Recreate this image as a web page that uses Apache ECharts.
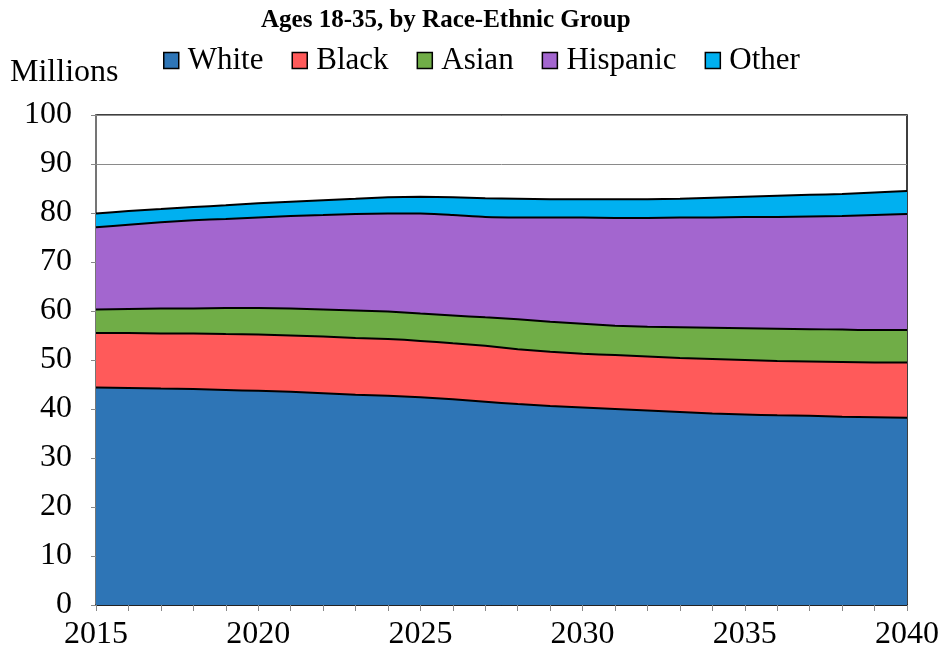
<!DOCTYPE html>
<html>
<head>
<meta charset="utf-8">
<script src="https://cdn.jsdelivr.net/npm/echarts@6/dist/echarts.min.js"></script>
<style>
  html, body { margin: 0; padding: 0; background: #fff; }
  #chart { width: 942px; height: 661px; }
</style>
</head>
<body>
<div id="chart"></div>
<script>
// Young adult population (ages 18-35), millions, by race-ethnic group
const years = ['2015','2016','2017','2018','2019','2020','2021','2022','2023','2024','2025','2026','2027',
               '2028','2029','2030','2031','2032','2033','2034','2035','2036','2037','2038','2039','2040'];
const white    = [44.4,44.3,44.2,44.1,43.9,43.7,43.5,43.2,42.9,42.7,42.4,42.0,41.5,41.0,40.6,40.3,40.0,39.7,39.4,39.1,38.9,38.7,38.6,38.4,38.3,38.2];
const black    = [11.1,11.2,11.2,11.3,11.4,11.5,11.5,11.6,11.6,11.6,11.5,11.4,11.4,11.2,11.1,11.0,11.0,11.0,11.0,11.1,11.1,11.1,11.1,11.2,11.2,11.3];
const asian    = [4.8,4.9,5.1,5.1,5.3,5.4,5.5,5.5,5.6,5.6,5.6,5.7,5.8,6.1,6.1,6.1,6.0,6.1,6.3,6.4,6.5,6.6,6.6,6.6,6.6,6.6];
const hispanic = [16.8,17.2,17.6,18.0,18.2,18.5,18.9,19.3,19.7,20.0,20.4,20.5,20.5,20.8,21.3,21.7,22.0,22.2,22.4,22.5,22.7,22.8,23.0,23.2,23.5,23.7];
const other    = [2.8,2.8,2.7,2.7,2.8,2.9,2.9,3.0,3.1,3.3,3.4,3.6,3.8,3.8,3.7,3.7,3.8,3.8,3.8,4.0,4.1,4.3,4.4,4.5,4.6,4.7];

const groups = [
  { name: 'White',    data: white,    color: '#2E75B6' },
  { name: 'Black',    data: black,    color: '#FF5A5A' },
  { name: 'Asian',    data: asian,    color: '#70AD47' },
  { name: 'Hispanic', data: hispanic, color: '#A366CF' },
  { name: 'Other',    data: other,    color: '#00B0F0' }
];

const FONT = '"Liberation Serif", "Times New Roman", serif';
const chart = echarts.init(document.getElementById('chart'));

chart.setOption({
  animation: false,
  backgroundColor: '#fff',
  title: {
    text: 'Ages 18-35, by Race-Ethnic Group',
    left: 256, top: 3,
    textStyle: { fontFamily: FONT, fontSize: 25, fontWeight: 'bold', color: '#000' }
  },
  legend: {
    left: 158, top: 40,
    icon: 'rect',
    itemWidth: 15, itemHeight: 16, itemGap: 28,
    textStyle: { fontFamily: FONT, fontSize: 31, color: '#000', padding: [0, 0, 0, 4] },
    itemStyle: { borderColor: '#000', borderWidth: 1.5 },
    data: groups.map(g => g.name)
  },
  graphic: [{
    type: 'text', left: 10, top: 57,
    style: { text: 'Millions', fontFamily: FONT, fontSize: 32, fill: '#000' }
  }],
  grid: {
    left: 96, right: 35, top: 115, bottom: 56,
    show: true, borderColor: '#000', borderWidth: 1.5, backgroundColor: 'transparent'
  },
  xAxis: {
    type: 'category',
    data: years,
    boundaryGap: false,
    axisLine: { lineStyle: { color: '#000', width: 1.5 } },
    axisTick: { show: true, interval: 0, length: 6, lineStyle: { color: '#888' } },
    axisLabel: { interval: 4, margin: 14, fontFamily: FONT, fontSize: 32, color: '#000' },
    splitLine: { show: false }
  },
  yAxis: {
    type: 'value',
    min: 0, max: 100, interval: 10,
    axisLine: { show: true, lineStyle: { color: '#888', width: 1.5 } },
    axisTick: { show: true, length: 5, lineStyle: { color: '#888' } },
    axisLabel: { margin: 24, fontFamily: FONT, fontSize: 32, color: '#000' },
    splitLine: { show: true, lineStyle: { color: '#8a8a8a', width: 1 } }
  },
  series: groups.map(g => ({
    name: g.name,
    type: 'line',
    stack: 'total',
    data: g.data,
    smooth: 0.2,
    showSymbol: false,
    symbol: 'none',
    lineStyle: { color: '#000', width: 2 },
    itemStyle: { color: g.color, borderColor: '#000' },
    areaStyle: { color: g.color, opacity: 1 },
    z: 2
  }))
});
</script>
</body>
</html>
